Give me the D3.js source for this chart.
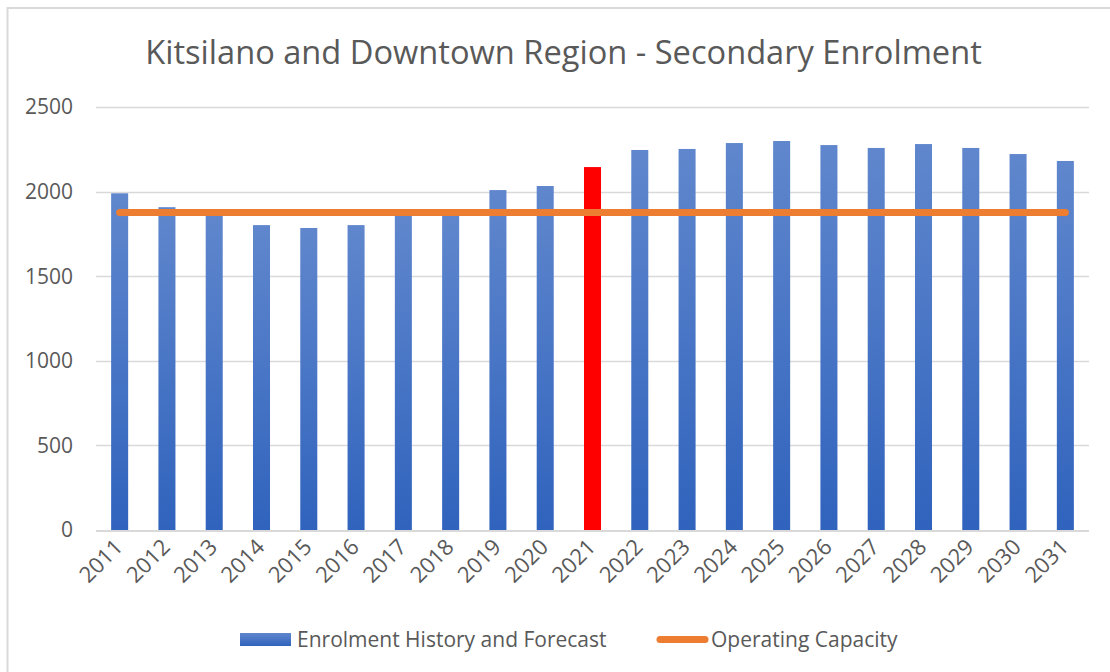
<!DOCTYPE html>
<html>
<head>
<meta charset="utf-8">
<script src="https://cdn.jsdelivr.net/npm/d3@7"></script>
<style>
  body { margin: 0; background: #fff; }
  svg { display: block; }
  text { font-family: "Open Sans", sans-serif; fill: #595959; }
</style>
</head>
<body>
<svg id="chart" width="1110" height="672"></svg>
<script>
const title = "Kitsilano and Downtown Region - Secondary Enrolment";
const years = ["2011","2012","2013","2014","2015","2016","2017","2018","2019","2020","2021",
               "2022","2023","2024","2025","2026","2027","2028","2029","2030","2031"];
const enrolment = [1990,1908,1872,1802,1785,1802,1870,1872,2009,2033,2145,
                   2246,2252,2287,2299,2275,2258,2281,2258,2222,2181];
const capacity = [1877,1877,1877,1877,1877,1877,1877,1877,1877,1877,1877,
                  1877,1877,1877,1877,1877,1877,1877,1877,1877,1877];
const highlightYear = "2021";
const yTicks = [0,500,1000,1500,2000,2500];
const seriesNames = ["Enrolment History and Forecast", "Operating Capacity"];

const svg = d3.select("#chart");
const plotL = 96, plotR = 1089, plotT = 107, plotB = 530;

// outer border
svg.append("path").attr("d", "M7.5,672 L7.5,8 L1110,8")
  .attr("fill", "none").attr("stroke", "#d9d9d9").attr("stroke-width", 2);

const defs = svg.append("defs");
const grad = defs.append("linearGradient").attr("id", "barGrad")
  .attr("x1", 0).attr("y1", 0).attr("x2", 0).attr("y2", 1);
grad.append("stop").attr("offset", "0%").attr("stop-color", "#6087cd");
grad.append("stop").attr("offset", "100%").attr("stop-color", "#3063bd");

const x = d3.scaleBand().domain(years).range([plotL, plotR]).paddingInner(0.64).paddingOuter(0.32);
const y = d3.scaleLinear().domain([0, 2500]).range([plotB, plotT]);

// gridlines
svg.append("g").selectAll("line").data(yTicks.filter(d => d > 0)).join("line")
  .attr("x1", plotL).attr("x2", plotR)
  .attr("y1", d => Math.round(y(d)) + 0.5).attr("y2", d => Math.round(y(d)) + 0.5)
  .attr("stroke", "#d9d9d9").attr("stroke-width", 1.5);

// y labels
svg.append("g").selectAll("text").data(yTicks).join("text")
  .attr("x", 73).attr("y", d => y(d)).attr("dy", "0.35em")
  .attr("text-anchor", "end").style("font-size", "21px").text(d => d);

// bars
svg.append("g").selectAll("rect").data(years).join("rect")
  .attr("x", d => x(d)).attr("width", x.bandwidth())
  .attr("y", (d, i) => y(enrolment[i])).attr("height", (d, i) => y(0) - y(enrolment[i]))
  .attr("fill", d => d === highlightYear ? "#ff0000" : "url(#barGrad)");

// baseline
svg.append("line").attr("x1", plotL).attr("x2", plotR)
  .attr("y1", plotB + 1).attr("y2", plotB + 1)
  .attr("stroke", "#d9d9d9").attr("stroke-width", 2);

// capacity line
const line = d3.line().x((d, i) => x(years[i]) + x.bandwidth() / 2).y(d => y(d));
svg.append("path").datum(capacity).attr("d", line)
  .attr("fill", "none").attr("stroke", "#ed7d31").attr("stroke-width", 7)
  .attr("stroke-linecap", "round");

// x labels
svg.append("g").selectAll("text").data(years).join("text")
  .attr("transform", d => `translate(${x(d) + x.bandwidth() / 2 - 1},${plotB + 13}) rotate(-45)`)
  .attr("text-anchor", "end").attr("dy", "0.35em").style("font-size", "22px").text(d => d);

// title
const t = svg.append("text").attr("x", (145 + 982) / 2).attr("y", 64)
  .attr("text-anchor", "middle").style("font-size", "30px").text(title);
const tw = t.node().getComputedTextLength();
t.style("font-size", (30 * 837 / tw) + "px");

// legend
const lg = svg.append("g");
lg.append("rect").attr("x", 240).attr("y", 633).attr("width", 51).attr("height", 13).attr("fill", "url(#barGrad)");
lg.append("text").attr("x", 297).attr("y", 640).attr("dy", "0.35em").style("font-size", "21px").text(seriesNames[0]);
lg.append("line").attr("x1", 660).attr("x2", 705).attr("y1", 639.5).attr("y2", 639.5)
  .attr("stroke", "#ed7d31").attr("stroke-width", 7).attr("stroke-linecap", "round");
lg.append("text").attr("x", 711).attr("y", 640).attr("dy", "0.35em").style("font-size", "21px").text(seriesNames[1]);
</script>
</body>
</html>
